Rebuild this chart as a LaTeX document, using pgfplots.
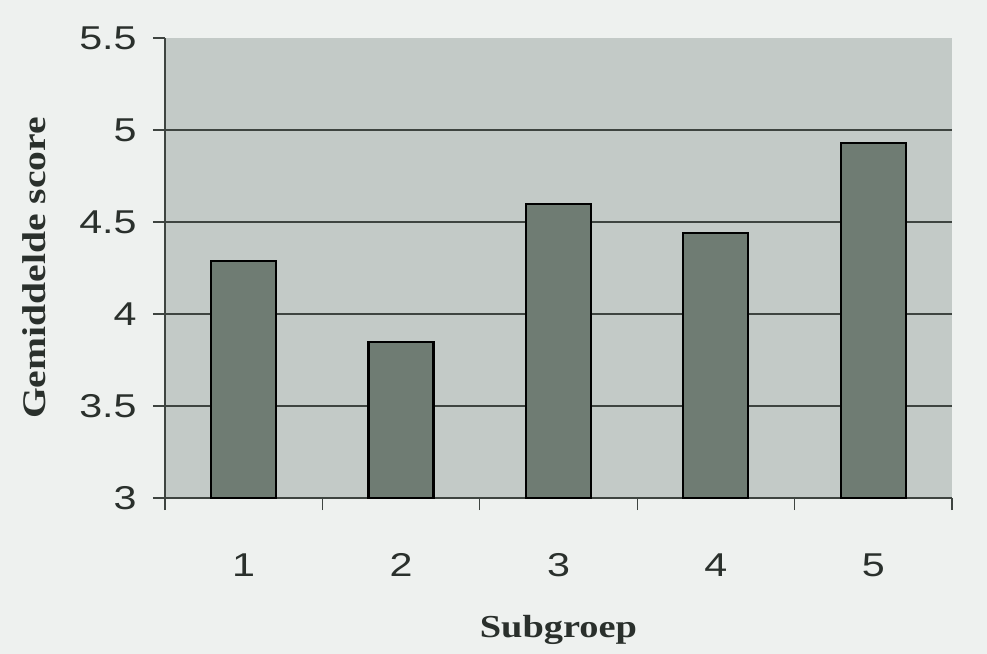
\documentclass[border=0pt]{standalone}
\usepackage{fontspec}
\usepackage{pgfplots}
\pgfplotsset{compat=1.18}
\newfontfamily\tickfont[FakeStretch=1.25]{Liberation Sans}
\newfontfamily\titlefont[FakeStretch=1.2]{Liberation Serif}
\definecolor{pagebg}{HTML}{EEF1EF}
\definecolor{plotbg}{HTML}{C3CAC7}
\definecolor{barfill}{HTML}{6F7C73}
\definecolor{gridc}{HTML}{3E4440}
\definecolor{txt}{HTML}{2A302C}
\begin{document}
\begin{tikzpicture}
\path[use as bounding box, fill=pagebg] (-82.5pt,-78pt) rectangle (411pt,249pt);
\begin{axis}[
  at={(0,0)}, anchor=south west,
  scale only axis,
  width=393.5pt, height=230pt,
  xmin=0.5, xmax=5.5,
  ymin=3, ymax=5.5,
  axis lines=left,
  axis line style={-, gridc, line width=0.6pt},
  axis background/.style={fill=plotbg},
  ybar, bar width=32.5pt,
  xtick={1,2,3,4,5},
  major x tick style={draw=none},
  minor xtick={0.5,1.5,2.5,3.5,4.5,5.5},
  minor x tick style={gridc, line width=0.6pt},
  minor tick length=6pt,
  ytick={3,3.5,4,4.5,5,5.5},
  ytick style={gridc, line width=0.6pt},
  major tick length=6pt,
  tick align=outside,
  extra y ticks={3.5,4,4.5,5},
  extra y tick labels={},
  extra y tick style={grid=major, major tick length=0pt},
  grid style={gridc, line width=0.7pt},
  /pgf/number format/assume math mode=true,
  tick label style={font=\tickfont\fontsize{16.5}{18}\selectfont, text=txt},
  yticklabel style={anchor=east, inner sep=0pt, xshift=-8pt},
  xticklabel style={anchor=center, inner sep=0pt, yshift=-27.5pt},
  xlabel={Subgroep},
  ylabel={Gemiddelde score},
  every axis x label/.style={at={(axis description cs:0.5,0)}, yshift=-66pt, anchor=center,
    font=\titlefont\bfseries\fontsize{16}{18}\selectfont, text=txt},
  every axis y label/.style={at={(axis description cs:0,0.5)}, xshift=-65.5pt, rotate=90, anchor=center,
    font=\titlefont\bfseries\fontsize{16.5}{18}\selectfont, text=txt},
]
\addplot[fill=barfill, draw=black, line width=1.1pt] coordinates {(1,4.29) (2,3.85) (3,4.60) (4,4.44) (5,4.93)};
\end{axis}
\end{tikzpicture}
\end{document}
